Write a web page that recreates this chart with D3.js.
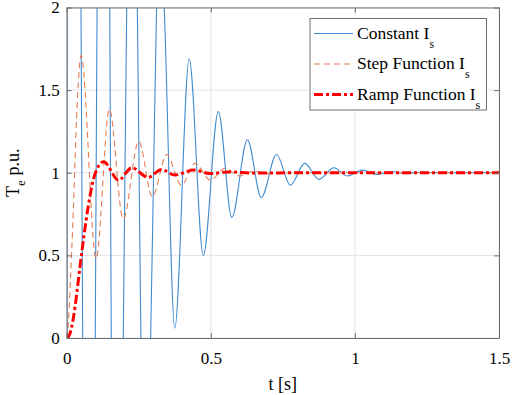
<!DOCTYPE html>
<html>
<head>
<meta charset="utf-8">
<script src="https://cdn.jsdelivr.net/npm/d3@7"></script>
<style>
  body { margin: 0; background: #fff; }
</style>
</head>
<body>
<div id="chart"></div>
<script>
// data: time [s] and Te [p.u.]
const tConstant = [0, 0.003, 0.025, 0.0496, 0.0525, 0.0555, 0.077, 0.0991, 0.1022, 0.1054, 0.127, 0.1494, 0.152, 0.1546,
  0.175, 0.1962, 0.2022, 0.2083, 0.226, 0.2451, 0.2513, 0.2575, 0.274, 0.2912, 0.3015, 0.3119, 0.325, 0.3382,
  0.375, 0.425, 0.474, 0.526, 0.573, 0.627, 0.675, 0.728, 0.776, 0.826, 0.875, 0.927, 0.974, 1.026, 1.075,
  1.126, 1.175, 1.226, 1.3, 1.5];
const teConstant = [0, 6, 7, 2, 1, 0, -4.5, 0, 1, 2, 5.5, 2, 1, 0,
  -2.8, 0, 1, 2, 3.4, 2, 1, 0, -0.75, 0, 1, 2, 2.45, 2,
  0.06, 1.69, 0.50, 1.37, 0.73, 1.20, 0.85, 1.11, 0.925, 1.057, 0.96, 1.03, 0.98, 1.016, 0.99,
  1.008, 0.996, 1.003, 1.0, 1.0];

const tStep = [0, 0.005, 0.013, 0.021, 0.036, 0.05, 0.102, 0.148, 0.196, 0.25, 0.297, 0.347, 0.398, 0.445,
  0.499, 0.549, 0.6, 0.65, 0.7, 0.8, 1.5];
const teStep = [0, 0.07, 0.35, 0.68, 1.4, 1.71, 0.48, 1.385, 0.72, 1.19, 0.855, 1.11, 0.925, 1.057,
  0.955, 1.027, 0.98, 1.01, 0.995, 1.0, 1.0];

const tRamp = [0, 0.01, 0.023, 0.035, 0.046, 0.06, 0.075, 0.092, 0.11, 0.128, 0.18, 0.226, 0.283, 0.329,
  0.375, 0.44, 0.5, 0.56, 0.65, 0.8, 1.5];
const teRamp = [0, 0.02, 0.12, 0.27, 0.43, 0.62, 0.8, 0.955, 1.04, 1.067, 0.955, 1.03, 0.972, 1.02,
  0.986, 1.016, 0.995, 1.005, 0.998, 1.0, 1.0];

const xTicks = [0, 0.5, 1, 1.5];
const xTickLabels = ["0", "0.5", "1", "1.5"];
const yTicks = [0, 0.5, 1, 1.5, 2];
const yTickLabels = ["0", "0.5", "1", "1.5", "2"];

const seriesNames = ["Constant I", "Step Function I", "Ramp Function I"];

const serif = '"Liberation Serif", "Times New Roman", serif';
const width = 512;
const height = 395;
const margin = { top: 7.5, right: 13, bottom: 57, left: 66.7 };

const svg = d3.select("#chart")
  .append("svg")
  .attr("width", width)
  .attr("height", height);

const x = d3.scaleLinear()
  .domain([0, 1.5])
  .range([margin.left, width - margin.right]);

const y = d3.scaleLinear()
  .domain([0, 2])
  .range([height - margin.bottom, margin.top]);

// grid
svg.append("g")
  .selectAll("line")
  .data(xTicks)
  .join("line")
    .attr("x1", d => x(d)).attr("x2", d => x(d))
    .attr("y1", y(0)).attr("y2", y(2))
    .attr("stroke", "#e3e3e3");

svg.append("g")
  .selectAll("line")
  .data(yTicks)
  .join("line")
    .attr("y1", d => y(d)).attr("y2", d => y(d))
    .attr("x1", x(0)).attr("x2", x(1.5))
    .attr("stroke", "#e3e3e3");

// curves, clipped to the plot box
svg.append("clipPath").attr("id", "clip")
  .append("rect")
    .attr("x", x(0)).attr("y", y(2))
    .attr("width", x(1.5) - x(0)).attr("height", y(0) - y(2));

const line = d3.line()
  .x(d => x(d[0]))
  .y(d => y(d[1]))
  .curve(d3.curveMonotoneX);

const plot = svg.append("g").attr("clip-path", "url(#clip)");

const series = [
  { t: tConstant, v: teConstant, color: "#3f8bd0", w: 1.1, dash: null },
  { t: tStep, v: teStep, color: "#e47d55", w: 1.1, dash: "6,4" },
  { t: tRamp, v: teRamp, color: "#ff0000", w: 3, dash: "9,3,3,3" }
];

series.forEach(s => {
  plot.append("path")
    .datum(s.t.map((t, i) => [t, s.v[i]]))
    .attr("fill", "none")
    .attr("stroke", s.color)
    .attr("stroke-width", s.w)
    .attr("stroke-dasharray", s.dash)
    .attr("d", line);
});

// axes (ticks point inwards, box on)
const xAxis = g => g
  .attr("transform", `translate(0, ${y(0)})`)
  .call(d3.axisBottom(x).tickValues(xTicks).tickFormat((d, i) => xTickLabels[i])
    .tickSizeInner(-5).tickSizeOuter(0).tickPadding(14));

const yAxis = g => g
  .attr("transform", `translate(${x(0)}, 0)`)
  .call(d3.axisLeft(y).tickValues(yTicks).tickFormat((d, i) => yTickLabels[i])
    .tickSizeInner(-5).tickSizeOuter(0).tickPadding(7));

const xTop = g => g
  .attr("transform", `translate(0, ${y(2)})`)
  .call(d3.axisTop(x).tickValues(xTicks).tickFormat("").tickSizeInner(-5).tickSizeOuter(0));

const yRight = g => g
  .attr("transform", `translate(${x(1.5)}, 0)`)
  .call(d3.axisRight(y).tickValues(yTicks).tickFormat("").tickSizeInner(-5).tickSizeOuter(0));

[xAxis, yAxis, xTop, yRight].forEach(a => {
  const g = svg.append("g").call(a);
  g.selectAll(".domain, line").attr("stroke", "#6e6e6e");
  g.selectAll("text")
    .attr("fill", "#000")
    .style("font-family", serif)
    .style("font-size", "17px");
});

// axis labels
svg.append("text")
  .attr("x", (x(0) + x(1.5)) / 2)
  .attr("y", 390)
  .attr("text-anchor", "middle")
  .style("font-family", serif)
  .style("font-size", "18px")
  .text("t [s]");

const yLab = svg.append("text")
  .attr("transform", `translate(19, ${(y(0) + y(2)) / 2}) rotate(-90)`)
  .attr("text-anchor", "middle")
  .style("font-family", serif)
  .style("font-size", "18px");
yLab.append("tspan").text("T");
yLab.append("tspan").style("font-size", "13px").attr("dy", 6).text("e");
yLab.append("tspan").attr("dy", -6).text(" p.u.");

// legend
const legend = svg.append("g");
legend.append("rect")
  .attr("x", 310).attr("y", 18.5)
  .attr("width", 176.5).attr("height", 91.5)
  .attr("fill", "#fff")
  .attr("stroke", "#6e6e6e");

series.forEach((s, i) => {
  const ly = 33.5 + i * 30.5;
  legend.append("line")
    .attr("x1", 314).attr("x2", 353)
    .attr("y1", ly).attr("y2", ly)
    .attr("stroke", s.color)
    .attr("stroke-width", s.w)
    .attr("stroke-dasharray", s.dash);
  const t = legend.append("text")
    .attr("x", 357).attr("y", ly + 5)
    .style("font-family", serif)
    .style("font-size", "17.5px");
  t.append("tspan").text(seriesNames[i]);
  t.append("tspan").style("font-size", "12px").attr("dy", 9).text("s");
});
</script>
</body>
</html>
